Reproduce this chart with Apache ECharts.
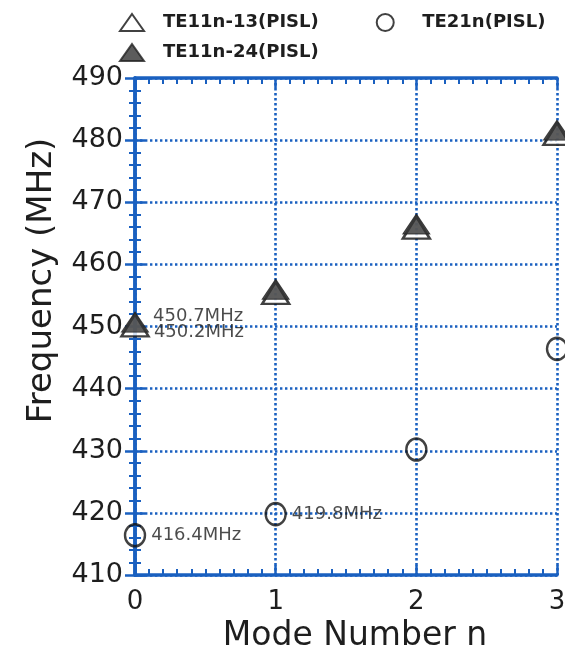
<!DOCTYPE html>
<html>
<head>
<meta charset="utf-8">
<script src="https://cdn.jsdelivr.net/npm/echarts@6/dist/echarts.min.js"></script>
<style>
  html, body { margin: 0; padding: 0; background: #fff; overflow: hidden; }
  #chart { width: 565px; height: 653px; }
</style>
</head>
<body>
<div id="chart"></div>
<script>
// ---- data ----
const modeNumbers = [0, 1, 2, 3];
const te11n13 = [450.2, 455.4, 465.9, 481.0];   // open triangles
const te11n24 = [450.7, 456.0, 466.5, 481.6];   // filled triangles
const te21n   = [416.4, 419.8, 430.2, 446.4];   // open circles
const labelTE11n13 = [0];      // indices with value labels
const labelTE11n24 = [0];
const labelTE21n   = [0, 1];
const seriesNames = ['TE11n-13(PISL)', 'TE21n(PISL)', 'TE11n-24(PISL)'];
const yTicks = { min: 410, max: 490, step: 10 };
const xTicks = { min: 0, max: 3, step: 1 };

const BLUE = '#1a60c0';
const FONT = 'DejaVu Sans';

function pts(vals, labelIdx, labelCfg) {
  return vals.map((v, i) => {
    const item = { value: [modeNumbers[i], v] };
    if (labelIdx.indexOf(i) >= 0) {
      item.label = Object.assign({
        show: true,
        formatter: (p) => p.value[1].toFixed(1) + 'MHz',
        fontFamily: FONT, fontSize: 18, color: '#1e1e1e'
      }, labelCfg);
    }
    return item;
  });
}

const axisLine = { show: true, lineStyle: { color: BLUE, width: 3.5 } };
const axisTick = { show: true, inside: true, length: 10, lineStyle: { color: BLUE, width: 2.5 } };
const gridLine = { show: true, lineStyle: { color: BLUE, width: 2.6, type: [2.4, 2.6] } };
const legendText = { fontFamily: FONT, fontWeight: 'bold', fontSize: 18, color: '#1e1e1e', padding: [0, 0, 0, 14] };

const chart = echarts.init(document.getElementById('chart'));
chart.setOption({
  animation: false,
  backgroundColor: '#fff',
  grid: { left: 135, right: 8, top: 78, bottom: 78, containLabel: false, outerBoundsMode: 'none' },
  legend: [
    {
      data: [
        { name: seriesNames[0], icon: 'triangle' },
        { name: seriesNames[1], icon: 'circle', textStyle: { padding: [0, 0, 0, 20] } }
      ],
      left: 114, top: 8, itemWidth: 24, itemHeight: 17, itemGap: 57,
      textStyle: legendText
    },
    {
      data: [{ name: seriesNames[2], icon: 'triangle' }],
      left: 114, top: 38, itemWidth: 24, itemHeight: 17,
      textStyle: legendText
    }
  ],
  xAxis: [
    {
      type: 'value', min: xTicks.min, max: xTicks.max, interval: xTicks.step,
      position: 'bottom',
      name: 'Mode Number n', nameLocation: 'middle', nameGap: 45,
      nameTextStyle: { fontFamily: FONT, fontSize: 33, color: '#1e1e1e', padding: [0, 0, 0, 18] },
      axisLine, axisTick,
      minorTick: { show: true, splitNumber: 10, length: 6, lineStyle: { color: BLUE, width: 2 } },
      axisLabel: { fontFamily: FONT, fontSize: 26, color: '#1e1e1e', margin: 14 },
      splitLine: gridLine
    },
    {
      type: 'value', min: xTicks.min, max: xTicks.max, interval: xTicks.step,
      position: 'top',
      axisLine, axisTick,
      minorTick: { show: true, splitNumber: 10, length: 6, lineStyle: { color: BLUE, width: 2 } },
      axisLabel: { show: false }, splitLine: { show: false }
    }
  ],
  yAxis: [
    {
      type: 'value', min: yTicks.min, max: yTicks.max, interval: yTicks.step,
      position: 'left',
      name: 'Frequency (MHz)', nameLocation: 'middle', nameGap: 76,
      nameTextStyle: { fontFamily: FONT, fontSize: 34, color: '#1e1e1e', padding: [0, 0, 0, 92] },
      axisLine, axisTick,
      minorTick: { show: true, splitNumber: 5, length: 6, lineStyle: { color: BLUE, width: 2 } },
      axisLabel: { fontFamily: FONT, fontSize: 27, color: '#1e1e1e', margin: 12, padding: [5, 0, 0, 0] },
      splitLine: gridLine
    },
    {
      type: 'value', min: yTicks.min, max: yTicks.max, interval: yTicks.step,
      position: 'right',
      axisLine, axisTick,
      minorTick: { show: true, splitNumber: 5, length: 6, lineStyle: { color: BLUE, width: 2 } },
      axisLabel: { show: false }, splitLine: { show: false }
    }
  ],
  series: [
    {
      name: seriesNames[0], type: 'scatter', xAxisIndex: 0, yAxisIndex: 0,
      symbol: 'triangle', symbolSize: [27, 22], clip: false, z: 3,
      itemStyle: { color: '#fff', borderColor: '#111', borderWidth: 2.5 },
      data: pts(te11n13, labelTE11n13, { position: 'right', distance: 4, offset: [0, 7] })
    },
    {
      name: seriesNames[1], type: 'scatter', xAxisIndex: 0, yAxisIndex: 0,
      symbol: 'circle', symbolSize: [20, 22], clip: false, z: 3,
      itemStyle: { color: 'rgba(255,255,255,0)', borderColor: '#111', borderWidth: 2.5 },
      data: pts(te21n, labelTE21n, { position: 'right', distance: 5 })
    },
    {
      name: seriesNames[2], type: 'scatter', xAxisIndex: 0, yAxisIndex: 0,
      symbol: 'triangle', symbolSize: [27, 20], clip: false, z: 4,
      itemStyle: { color: '#333', borderColor: '#222', borderWidth: 1 },
      data: pts(te11n24, labelTE11n24, { position: 'right', distance: 4, offset: [0, -6] })
    }
  ]
});
</script>
</body>
</html>
